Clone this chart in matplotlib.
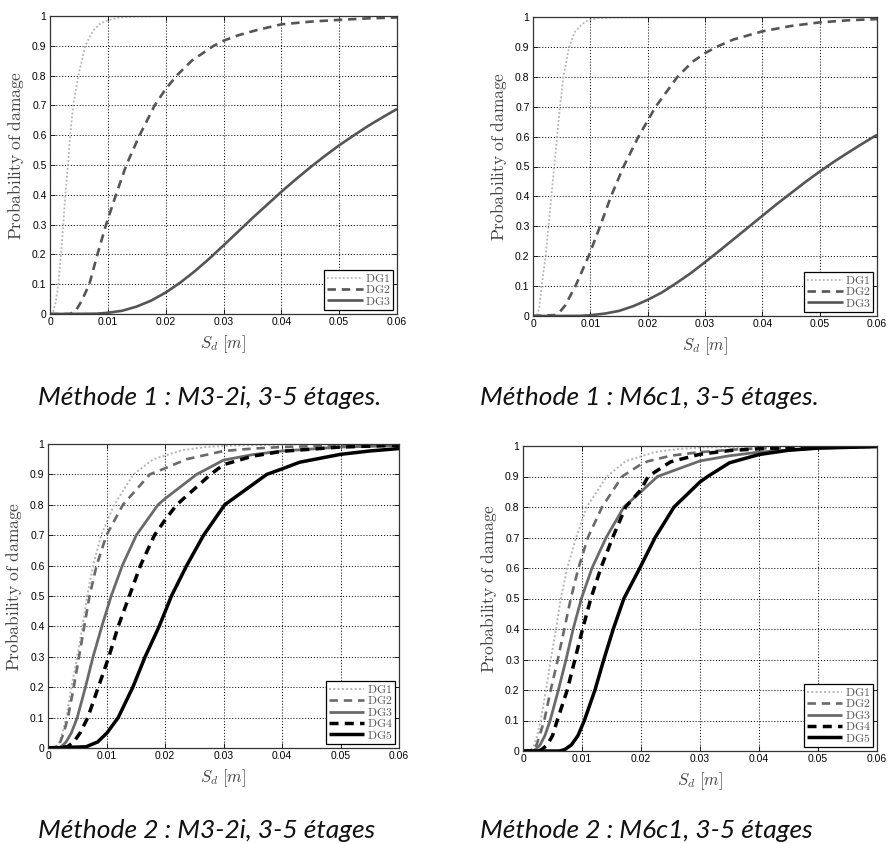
import matplotlib
matplotlib.use("Agg")
import matplotlib.pyplot as plt
import matplotlib.ticker as mticker

plt.rcParams["mathtext.fontset"] = "cm"
plt.rcParams["font.family"] = ["Liberation Sans", "DejaVu Sans"]

W, H = 888, 844
DPI = 100

# ---- Méthode 1 : M3-2i -------------------------------------
M1_M32I_DG1_X = [0, 0.0005, 0.001, 0.00144, 0.0019, 0.0023, 0.00265, 0.0031, 0.0035, 0.004, 0.0049,
                 0.0061, 0.0074, 0.0085, 0.0098, 0.012, 0.0144, 0.02, 0.06]
M1_M32I_DG1_Y = [0, 0.005, 0.04, 0.1, 0.2, 0.3, 0.4, 0.5, 0.6, 0.7, 0.8,
                 0.9, 0.95, 0.972, 0.985, 0.995, 0.998, 1.0, 1.0]
M1_M32I_DG2_X = [0, 0.0035, 0.0045, 0.0055, 0.0068, 0.0082, 0.0097, 0.0114, 0.0132, 0.0155, 0.0181, 0.02,
                 0.0219, 0.0245, 0.0283, 0.03, 0.0325, 0.0358, 0.04, 0.045, 0.05, 0.055, 0.06]
M1_M32I_DG2_Y = [0, 0.0, 0.012, 0.045, 0.1, 0.2, 0.3, 0.4, 0.5, 0.6, 0.7, 0.755,
                 0.8, 0.85, 0.9, 0.917, 0.935, 0.953, 0.972, 0.981, 0.987, 0.992, 0.995]
M1_M32I_DG3_X = [0, 0.008, 0.01, 0.0125, 0.015, 0.0175, 0.02, 0.0225, 0.025, 0.0275, 0.03, 0.0325,
                 0.035, 0.0375, 0.04, 0.0425, 0.045, 0.0475, 0.05, 0.0525, 0.055, 0.0575, 0.06]
M1_M32I_DG3_Y = [0, 0.001, 0.004, 0.011, 0.025, 0.045, 0.072, 0.105, 0.143, 0.185, 0.23, 0.276,
                 0.322, 0.366, 0.41, 0.452, 0.492, 0.53, 0.566, 0.599, 0.631, 0.66, 0.688]

# ---- Méthode 1 : M6c1 --------------------------------------
M1_M6C1_DG1_X = [0, 0.0008, 0.0011, 0.0015, 0.0022, 0.0027, 0.0032, 0.0037, 0.0042, 0.0047, 0.0053,
                 0.0063, 0.0073, 0.0085, 0.0095, 0.0112, 0.014, 0.06]
M1_M6C1_DG1_Y = [0, 0.005, 0.03, 0.1, 0.2, 0.3, 0.4, 0.5, 0.6, 0.7, 0.8,
                 0.9, 0.95, 0.975, 0.988, 0.996, 0.999, 1.0]
M1_M6C1_DG2_X = [0, 0.0038, 0.0046, 0.0056, 0.0074, 0.0097, 0.0117, 0.0136, 0.0158, 0.0184, 0.0214,
                 0.0252, 0.0278, 0.03, 0.032, 0.035, 0.04, 0.045, 0.05, 0.055, 0.06]
M1_M6C1_DG2_Y = [0, 0.003, 0.012, 0.035, 0.1, 0.2, 0.3, 0.4, 0.5, 0.6, 0.7,
                 0.8, 0.85, 0.879, 0.9, 0.925, 0.952, 0.97, 0.982, 0.989, 0.993]
M1_M6C1_DG3_X = [0, 0.008, 0.01, 0.0125, 0.015, 0.0175, 0.02, 0.0225, 0.025, 0.0275, 0.03, 0.0325,
                 0.035, 0.0375, 0.04, 0.0425, 0.045, 0.0475, 0.05, 0.0525, 0.055, 0.0575, 0.06]
M1_M6C1_DG3_Y = [0, 0.0005, 0.0026, 0.008, 0.017, 0.033, 0.054, 0.079, 0.110, 0.143, 0.180, 0.218,
                 0.257, 0.296, 0.335, 0.374, 0.411, 0.448, 0.483, 0.516, 0.547, 0.577, 0.606]

# ---- Méthode 2 : M3-2i -------------------------------------
M2_M32I_DG1_X = [0, 0.0011, 0.0014, 0.002, 0.0025, 0.0031, 0.004, 0.005, 0.0059, 0.0067, 0.0077,
                 0.0091, 0.0113, 0.0146, 0.018, 0.023, 0.027, 0.0314, 0.043, 0.06]
M2_M32I_DG1_Y = [0, 0, 0.005, 0.02, 0.05, 0.1, 0.2, 0.3, 0.4, 0.5, 0.6,
                 0.7, 0.8, 0.9, 0.95, 0.98, 0.99, 0.995, 0.999, 1.0]
M2_M32I_DG2_X = [0, 0.0012, 0.0016, 0.0021, 0.0027, 0.0034, 0.0044, 0.0053, 0.0062, 0.0071, 0.0083,
                 0.0100, 0.0128, 0.0174, 0.02, 0.0237, 0.03, 0.035, 0.04, 0.05, 0.06]
M2_M32I_DG2_Y = [0, 0, 0.005, 0.02, 0.05, 0.1, 0.2, 0.3, 0.4, 0.5, 0.6,
                 0.7, 0.8, 0.9, 0.92, 0.95, 0.977, 0.985, 0.99, 0.995, 0.997]
M2_M32I_DG3_X = [0, 0.0018, 0.0023, 0.0031, 0.004, 0.005, 0.0064, 0.0077, 0.0092, 0.0108, 0.0127,
                 0.0151, 0.0188, 0.02, 0.0254, 0.03, 0.035, 0.04, 0.05, 0.06]
M2_M32I_DG3_Y = [0, 0, 0.005, 0.02, 0.05, 0.1, 0.2, 0.3, 0.4, 0.5, 0.6,
                 0.7, 0.8, 0.82, 0.9, 0.947, 0.965, 0.977, 0.99, 0.995]
M2_M32I_DG4_X = [0, 0.0033, 0.0044, 0.0055, 0.0068, 0.0086, 0.0104, 0.012, 0.0139, 0.0158, 0.0182,
                 0.02, 0.022, 0.0278, 0.03, 0.035, 0.04, 0.05, 0.06]
M2_M32I_DG4_Y = [0, 0.004, 0.02, 0.05, 0.1, 0.2, 0.3, 0.4, 0.5, 0.6, 0.7,
                 0.75, 0.8, 0.9, 0.932, 0.96, 0.976, 0.99, 0.996]
M2_M32I_DG5_X = [0, 0.0065, 0.0085, 0.0101, 0.012, 0.0145, 0.0166, 0.019, 0.0211, 0.0237, 0.0266,
                 0.0302, 0.0374, 0.04, 0.043, 0.05, 0.055, 0.06]
M2_M32I_DG5_Y = [0, 0.004, 0.02, 0.05, 0.1, 0.2, 0.3, 0.4, 0.5, 0.6, 0.7,
                 0.8, 0.9, 0.918, 0.94, 0.966, 0.977, 0.985]

# ---- Méthode 2 : M6c1 --------------------------------------
M2_M6C1_DG1_X = [0, 0.0011, 0.0014, 0.0019, 0.0024, 0.003, 0.0039, 0.0047, 0.0056, 0.0064, 0.0075,
                 0.009, 0.0108, 0.0142, 0.0174, 0.0223, 0.0263, 0.0305, 0.0415, 0.06]
M2_M6C1_DG1_Y = [0, 0, 0.005, 0.02, 0.05, 0.1, 0.2, 0.3, 0.4, 0.5, 0.6,
                 0.7, 0.8, 0.9, 0.95, 0.98, 0.99, 0.995, 0.999, 1.0]
M2_M6C1_DG2_X = [0, 0.0013, 0.0018, 0.0023, 0.0028, 0.0036, 0.0047, 0.0059, 0.007, 0.0081, 0.0094,
                 0.011, 0.0134, 0.0168, 0.02, 0.0212, 0.025, 0.03, 0.037, 0.045, 0.06]
M2_M6C1_DG2_Y = [0, 0, 0.005, 0.02, 0.05, 0.1, 0.2, 0.3, 0.4, 0.5, 0.6,
                 0.7, 0.8, 0.9, 0.94, 0.95, 0.968, 0.98, 0.99, 0.995, 0.999]
M2_M6C1_DG3_X = [0, 0.0017, 0.0021, 0.0029, 0.0037, 0.0046, 0.006, 0.0073, 0.0085, 0.0099, 0.0117,
                 0.0141, 0.0171, 0.02, 0.0228, 0.03, 0.035, 0.04, 0.05, 0.06]
M2_M6C1_DG3_Y = [0, 0, 0.005, 0.02, 0.05, 0.1, 0.2, 0.3, 0.4, 0.5, 0.6,
                 0.7, 0.8, 0.85, 0.9, 0.951, 0.968, 0.98, 0.993, 0.998]
M2_M6C1_DG4_X = [0, 0.0026, 0.0032, 0.0041, 0.005, 0.0058, 0.0075, 0.0088, 0.0101, 0.0115, 0.0132,
                 0.0152, 0.0174, 0.02, 0.0212, 0.025, 0.03, 0.035, 0.04, 0.05, 0.06]
M2_M6C1_DG4_Y = [0, 0, 0.005, 0.02, 0.05, 0.1, 0.2, 0.3, 0.4, 0.5, 0.6,
                 0.7, 0.8, 0.857, 0.9, 0.948, 0.973, 0.985, 0.991, 0.997, 0.999]
M2_M6C1_DG5_X = [0, 0.0062, 0.0071, 0.0082, 0.0093, 0.0104, 0.0122, 0.0137, 0.0153, 0.0171, 0.0198,
                 0.0224, 0.0256, 0.03, 0.0313, 0.035, 0.04, 0.045, 0.05, 0.06]
M2_M6C1_DG5_Y = [0, 0, 0.005, 0.02, 0.05, 0.1, 0.2, 0.3, 0.4, 0.5, 0.6,
                 0.7, 0.8, 0.882, 0.9, 0.945, 0.972, 0.986, 0.993, 0.998]

X_TICKS = [0, 0.01, 0.02, 0.03, 0.04, 0.05, 0.06]
Y_TICKS = [0, 0.1, 0.2, 0.3, 0.4, 0.5, 0.6, 0.7, 0.8, 0.9, 1]

CAPTIONS = [
    "Méthode 1 : M3-2i, 3-5 étages.",
    "Méthode 1 : M6c1, 3-5 étages.",
    "Méthode 2 : M3-2i, 3-5 étages",
    "Méthode 2 : M6c1, 3-5 étages",
]

# line styles per damage grade: (colour, linewidth, linestyle)
TOP_STYLES = {
    "DG1": ("#b4b4b4", 1.3, (0, (1, 1.2))),
    "DG2": ("#555555", 1.9, (0, (3.2, 2.2))),
    "DG3": ("#555555", 1.9, "-"),
}
BOTTOM_STYLES = {
    "DG1": ("#b4b4b4", 1.4, (0, (1, 1.2))),
    "DG2": ("#6a6a6a", 1.9, (0, (3.2, 2.2))),
    "DG3": ("#6a6a6a", 2.0, "-"),
    "DG4": ("#000000", 2.5, (0, (2.6, 1.8))),
    "DG5": ("#000000", 2.5, "-"),
}


def px_rect(x0, y0, x1, y1):
    return [x0 / W, 1 - y1 / H, (x1 - x0) / W, (y1 - y0) / H]


def draw_panel(fig, rect, curves, styles):
    ax = fig.add_axes(px_rect(*rect))
    for name, xs, ys in curves:
        color, lw, ls = styles[name]
        ax.plot(xs, ys, color=color, lw=lw, linestyle=ls,
                label=r"$\mathrm{%s}$" % name, solid_capstyle="butt")

    ax.set_xlim(0, 0.06)
    ax.set_ylim(0, 1)
    ax.set_xticks(X_TICKS)
    ax.set_yticks(Y_TICKS)
    ax.xaxis.set_major_formatter(mticker.FormatStrFormatter("%g"))
    ax.yaxis.set_major_formatter(mticker.FormatStrFormatter("%g"))
    ax.tick_params(direction="in", top=True, right=True, length=3.5, width=0.6,
                   labelsize=7.5, pad=2.5)
    ax.grid(True, color="#111111", linestyle=(0, (1, 1.8)), linewidth=0.75)
    for sp in ax.spines.values():
        sp.set_linewidth(0.9)
        sp.set_color("#333333")

    w_px = rect[2] - rect[0]
    h_px = rect[3] - rect[1]
    ax.set_ylabel(r"$\mathrm{Probability\ of\ damage}$", fontsize=12.5, color="#444444")
    ax.yaxis.set_label_coords(-24 / w_px, 0.533)
    ax.set_xlabel(r"$S_d\ [m]$", fontsize=12, color="#444444")
    ax.xaxis.set_label_coords(0.5, -19 / h_px)

    leg = ax.legend(loc="lower right", fontsize=8.5, handlelength=3.0, handletextpad=0.2,
                    labelspacing=-0.05, borderpad=0.25, borderaxespad=0.3,
                    fancybox=False, framealpha=1.0)
    leg.get_frame().set_edgecolor("black")
    leg.get_frame().set_linewidth(0.9)
    for t in leg.get_texts():
        t.set_color("#555555")
    return ax


fig = plt.figure(figsize=(W / DPI, H / DPI), dpi=DPI, facecolor="white")

draw_panel(fig, (50, 16, 397, 314),
           [("DG1", M1_M32I_DG1_X, M1_M32I_DG1_Y),
            ("DG2", M1_M32I_DG2_X, M1_M32I_DG2_Y),
            ("DG3", M1_M32I_DG3_X, M1_M32I_DG3_Y)], TOP_STYLES)
draw_panel(fig, (533, 17, 877, 316),
           [("DG1", M1_M6C1_DG1_X, M1_M6C1_DG1_Y),
            ("DG2", M1_M6C1_DG2_X, M1_M6C1_DG2_Y),
            ("DG3", M1_M6C1_DG3_X, M1_M6C1_DG3_Y)], TOP_STYLES)
draw_panel(fig, (48, 444, 399, 748),
           [("DG1", M2_M32I_DG1_X, M2_M32I_DG1_Y),
            ("DG2", M2_M32I_DG2_X, M2_M32I_DG2_Y),
            ("DG3", M2_M32I_DG3_X, M2_M32I_DG3_Y),
            ("DG4", M2_M32I_DG4_X, M2_M32I_DG4_Y),
            ("DG5", M2_M32I_DG5_X, M2_M32I_DG5_Y)], BOTTOM_STYLES)
draw_panel(fig, (523, 446, 877, 751),
           [("DG1", M2_M6C1_DG1_X, M2_M6C1_DG1_Y),
            ("DG2", M2_M6C1_DG2_X, M2_M6C1_DG2_Y),
            ("DG3", M2_M6C1_DG3_X, M2_M6C1_DG3_Y),
            ("DG4", M2_M6C1_DG4_X, M2_M6C1_DG4_Y),
            ("DG5", M2_M6C1_DG5_X, M2_M6C1_DG5_Y)], BOTTOM_STYLES)

# captions under each panel
cap_kw = dict(fontsize=19, fontstyle="italic", family=["Lato", "DejaVu Sans"],
              va="baseline", ha="left", color="#111111")
fig.text(38 / W, 1 - 405 / H, CAPTIONS[0], **cap_kw)
fig.text(480 / W, 1 - 405 / H, CAPTIONS[1], **cap_kw)
fig.text(38 / W, 1 - 838 / H, CAPTIONS[2], **cap_kw)
fig.text(480 / W, 1 - 838 / H, CAPTIONS[3], **cap_kw)

fig.savefig("out.png", dpi=DPI, facecolor="white")
